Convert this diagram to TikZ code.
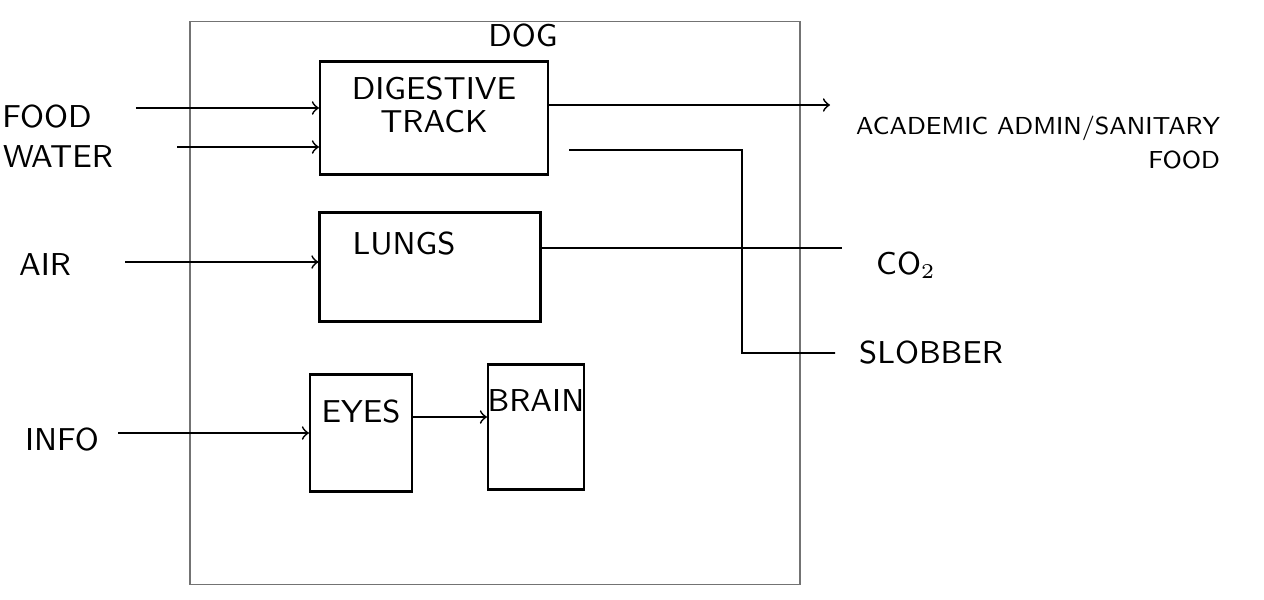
\documentclass[tikz,border=0pt]{standalone}
\usepackage{tikz}
\usetikzlibrary{calc, positioning, arrows}
\tikzset{
  organ/.style={draw, line width=0.6pt, rectangle, inner sep=0pt},
  tag/.style={font=\sffamily\small, inner sep=1pt},
  flow/.style={line width=0.5pt, ->, >=to},
  plain/.style={line width=0.5pt}
}

\begin{document}
\begin{tikzpicture}[x=0.1mm, y=-0.1mm]
	\useasboundingbox (0,0) rectangle (1264,599);
	\node[draw=black!55, line width=0.4pt, minimum width=61mm, minimum height=56.3mm] (dog) at (495,303) {};
	\node[tag] (doglbl) at (523,36) {DOG};
	\node[organ, minimum width=22.8mm, minimum height=11.3mm, label={[tag, anchor=north, yshift=-1.2mm]north:\shortstack{DIGESTIVE\\TRACK}}] (dig) at (434,118) {};
	\node[organ, minimum width=22.1mm, minimum height=10.9mm, label={[tag, anchor=north west, xshift=3mm, yshift=-1.6mm]north west:LUNGS}] (lungs) at (430,267) {};
	\node[organ, minimum width=10.2mm, minimum height=11.7mm, label={[tag, anchor=north, yshift=-2.2mm]north:EYES}] (eyes) at (361,433) {};
	\node[organ, minimum width=9.6mm, minimum height=12.5mm, label={[tag, anchor=north, yshift=-2.2mm]north:BRAIN}] (brain) at (536,427) {};
	\node[tag] (food) at (47,117) {FOOD};
	\node[tag] (water) at (58,157) {WATER};
	\node[tag] (air) at (45,265) {AIR};
	\node[tag] (info) at (62,440) {INFO};
	\node[tag, anchor=north west, align=right, font=\sffamily\scriptsize] (admin) at (852,112) {ACADEMIC ADMIN/SANITARY\\[0.6mm]FOOD};
	\node[tag, anchor=west] (co2) at (872,265) {CO$_2$};
	\node[tag, anchor=west] (slobber) at (855,353) {SLOBBER};
	\coordinate (drop) at (742,150);
	\draw[flow, shorten <=4mm] ([yshift=0.9mm]food.east) -- ([yshift=0.9mm]food.east -| dig.west);
	\draw[flow, shorten <=6mm] ([yshift=1mm]water.east) -- ([yshift=1mm]water.east -| dig.west);
	\draw[flow, shorten <=5mm] ([yshift=0.3mm]air.east) -- ([yshift=0.3mm]air.east -| lungs.west);
	\draw[flow, shorten <=1.5mm] ([yshift=0.7mm]info.east) -- ([yshift=0.7mm]info.east -| eyes.west);
	\draw[flow, shorten >=2.2mm] ([yshift=1.3mm]dig.east) -- ([yshift=1.3mm]dig.east -| admin.west);
	\draw[plain, shorten <=2mm] ([yshift=-3.2mm]dig.east) -- (drop) |- ([xshift=-2mm]slobber.west);
	\draw[plain, shorten >=3mm] ([yshift=1.9mm]lungs.east) -- ([yshift=1.9mm]lungs.east -| co2.west);
	\draw[flow] ([yshift=1.6mm]eyes.east) -- ([yshift=1.6mm]eyes.east -| brain.west);
\end{tikzpicture}
\end{document}
